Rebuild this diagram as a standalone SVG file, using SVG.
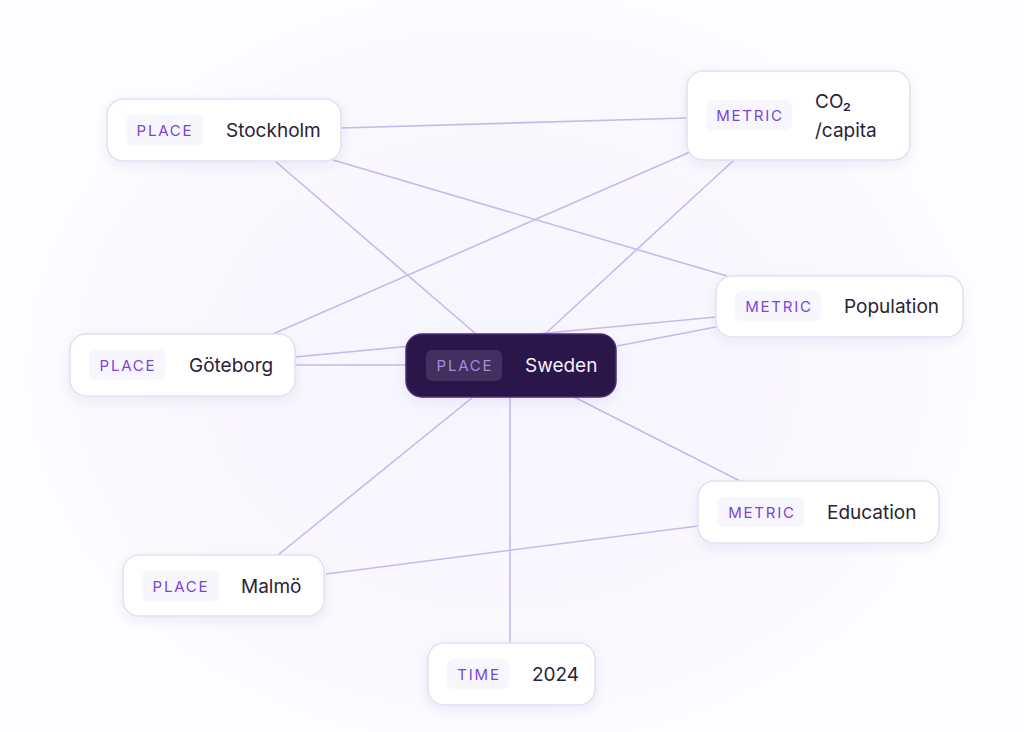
<svg xmlns="http://www.w3.org/2000/svg" width="1024" height="732" viewBox="0 0 1024 732">
<defs>
<radialGradient id="bg" cx="500" cy="370" r="480" gradientUnits="userSpaceOnUse" gradientTransform="translate(500 370) scale(1 0.8) translate(-500 -370)">
<stop offset="0" stop-color="#f7f5fd"/>
<stop offset="0.85" stop-color="#faf9fe"/>
<stop offset="1" stop-color="#fdfdff"/>
</radialGradient>
<filter id="sh" x="-20%" y="-30%" width="140%" height="170%">
<feDropShadow dx="0" dy="4" stdDeviation="6" flood-color="#4a2d8a" flood-opacity="0.07"/>
</filter>
</defs>
<style>
.node{fill:#ffffff;stroke:#e3dff0;stroke-width:1.5;filter:url(#sh)}
.dark{fill:#2a1248;stroke:#4a2f78;stroke-width:1.5;filter:url(#sh)}
.pill{fill:#f8f6fd}
.pilld{fill:#43305f}
.lab{font-family:Inter,"Liberation Sans",sans-serif;font-size:15px;letter-spacing:1.8px;fill:#7a45d6;text-anchor:middle;dominant-baseline:central}
.labd{fill:#a48ddc}
.val{font-family:Inter,"Liberation Sans",sans-serif;font-size:19px;fill:#2a2238;dominant-baseline:central}
.vald{fill:#f3effb}
.edge{stroke:#c7b8f0;stroke-width:1.6;fill:none}
</style>
<rect width="1024" height="732" fill="url(#bg)"/>
<g id="connectors">
<line class="edge" x1="341" y1="128" x2="687" y2="118"/>
<line class="edge" x1="275" y1="161" x2="476" y2="334"/>
<line class="edge" x1="333" y1="160" x2="727" y2="276"/>
<line class="edge" x1="690" y1="152" x2="273" y2="334"/>
<line class="edge" x1="734" y1="160" x2="545" y2="334"/>
<line class="edge" x1="295" y1="357" x2="716" y2="317"/>
<line class="edge" x1="617" y1="346" x2="716" y2="327"/>
<line class="edge" x1="295" y1="365" x2="406" y2="365"/>
<line class="edge" x1="473" y1="397" x2="278" y2="555"/>
<line class="edge" x1="510" y1="397" x2="510" y2="643"/>
<line class="edge" x1="574" y1="397" x2="740" y2="481"/>
<line class="edge" x1="326" y1="574" x2="698" y2="526"/>
</g>
<g id="node-stockholm">
<rect class="node" x="107" y="99" width="234" height="62" rx="16"/>
<rect class="pill" x="126" y="115" width="77" height="30" rx="6"/>
<text class="lab" x="165" y="130">PLACE</text>
<text class="val" x="226" y="130">Stockholm</text>
</g>
<g id="node-co2">
<rect class="node" x="687" y="71" width="223" height="89" rx="16"/>
<rect class="pill" x="706" y="100" width="86" height="30" rx="6"/>
<text class="lab" x="750" y="115">METRIC</text>
<text class="val" x="815" y="101">CO₂</text>
<text class="val" x="815" y="130">/capita</text>
</g>
<g id="node-population">
<rect class="node" x="716" y="276" width="247" height="61" rx="16"/>
<rect class="pill" x="735" y="291" width="86" height="30" rx="6"/>
<text class="lab" x="779" y="306">METRIC</text>
<text class="val" x="844" y="306">Population</text>
</g>
<g id="node-goteborg">
<rect class="node" x="70" y="334" width="225" height="62" rx="16"/>
<rect class="pill" x="89" y="350" width="77" height="30" rx="6"/>
<text class="lab" x="128" y="365">PLACE</text>
<text class="val" x="189" y="365">Göteborg</text>
</g>
<g id="node-sweden">
<rect class="dark" x="406" y="334" width="210" height="63" rx="16"/>
<rect class="pilld" x="426" y="350" width="76" height="31" rx="6"/>
<text class="lab labd" x="465" y="365">PLACE</text>
<text class="val vald" x="525" y="365">Sweden</text>
</g>
<g id="node-education">
<rect class="node" x="698" y="481" width="241" height="62" rx="16"/>
<rect class="pill" x="718" y="497" width="86" height="30" rx="6"/>
<text class="lab" x="762" y="512">METRIC</text>
<text class="val" x="827" y="512">Education</text>
</g>
<g id="node-malmo">
<rect class="node" x="123" y="555" width="201" height="61" rx="16"/>
<rect class="pill" x="142" y="571" width="77" height="30" rx="6"/>
<text class="lab" x="181" y="586">PLACE</text>
<text class="val" x="241" y="586">Malmö</text>
</g>
<g id="node-2024">
<rect class="node" x="428" y="643" width="167" height="62" rx="16"/>
<rect class="pill" x="447" y="659" width="62" height="30" rx="6"/>
<text class="lab" x="479" y="674">TIME</text>
<text class="val" x="532" y="674">2024</text>
</g>
</svg>
